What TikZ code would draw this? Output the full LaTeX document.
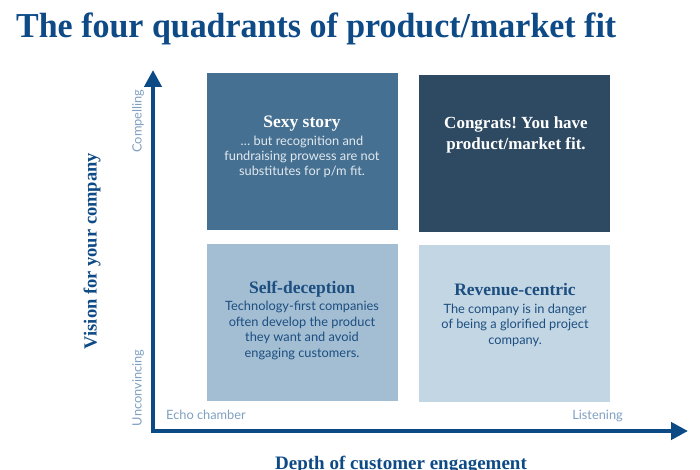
\documentclass[tikz,border=0pt]{standalone}
\usepackage{fontspec}
\setmainfont{Liberation Serif}
\newfontfamily\bodyfont{Lato}
\usetikzlibrary{arrows.meta}
\frenchspacing
\definecolor{titleblue}{RGB}{14,74,134}
\definecolor{axisblue}{RGB}{12,74,133}
\definecolor{tlfill}{RGB}{70,112,145}
\definecolor{trfill}{RGB}{46,74,98}
\definecolor{blfill}{RGB}{163,190,211}
\definecolor{brfill}{RGB}{195,214,228}
\definecolor{lighttext}{RGB}{128,160,194}
\definecolor{paletext}{RGB}{225,233,240}
\definecolor{darktext}{RGB}{28,78,128}
\begin{document}
\begin{tikzpicture}[x=1pt,y=-1pt,
  quad/.style={draw=none,minimum width=191pt,minimum height=157pt,inner sep=0pt,anchor=north west},
  qhead/.style={font=\fontsize{17.5}{21}\selectfont\bfseries,align=center,inner sep=0pt,anchor=base},
  qbody/.style={font=\bodyfont\fontsize{12.8}{15.4}\selectfont,align=center,inner sep=0pt,anchor=base},
  axlabel/.style={font=\bodyfont\fontsize{12.8}{15}\selectfont,text=lighttext,inner sep=0pt},
  bighead/.style={font=\fontsize{19}{22}\selectfont\bfseries,text=titleblue,inner sep=0pt},
  axis/.style={draw=axisblue,line width=4.5pt,line join=miter,{Triangle[length=17pt,width=17pt]}-{Triangle[length=17pt,width=17pt]}}
]
\useasboundingbox (0,0) rectangle (700,470);
\fill[white] (0,0) rectangle (700,470);

% title
\node[inner sep=0pt,anchor=base west,text=titleblue,font=\fontsize{35}{40}\selectfont\bfseries] (title) at (16,38) {\scalebox{0.97}[1]{The four quadrants of product/market fit}};

% quadrants
\node[quad,fill=tlfill] (tl) at (207,73) {};
\node[quad,fill=trfill] (tr) at (419,75) {};
\node[quad,fill=blfill] (bl) at (207,244) {};
\node[quad,fill=brfill] (br) at (419,245) {};

% texts (multi-line nodes are placed by the baseline of their last line)
\node[qhead,text=white] (tlh) at (302,128) {Sexy story};
\node[qbody,text=paletext] (tlb) at (302,176) {\dots\ but recognition and\\fundraising prowess are not\\substitutes for p/m fit.};

\node[qhead,text=white,font=\fontsize{17}{21}\selectfont\bfseries] (trh) at (516,150) {Congrats! You have\\product/market fit.};

\node[qhead,text=darktext] (blh) at (302,293) {Self-deception};
\node[qbody,text=darktext] (blb) at (302,357) {Technology-first companies\\often develop the product\\they want and avoid\\engaging customers.};

\node[qhead,text=darktext] (brh) at (515,295) {Revenue-centric};
\node[qbody,text=darktext] (brb) at (515,344) {The company is in danger\\of being a glorified project\\company.};

% axes
\coordinate (ytip) at (153,70);
\coordinate (origin) at (153,431);
\coordinate (xtip) at (688,431);
\draw[axis] (ytip) -- (origin) -- (xtip);

% axis end labels
\node[axlabel,rotate=90] (comp) at (138,121) {Compelling};
\node[axlabel,rotate=90] (unconv) at (138,388) {Unconvincing};
\node[axlabel,anchor=base west] (echo) at (166,419) {Echo chamber};
\node[axlabel,anchor=base east] (listen) at (623,419) {Listening};

% axis titles
\node[bighead,rotate=90,font=\fontsize{18.5}{22}\selectfont\bfseries] (vision) at (92,251) {Vision for your company};
\node[bighead,anchor=base] (depth) at (401,469) {Depth of customer engagement};
\end{tikzpicture}
\end{document}
